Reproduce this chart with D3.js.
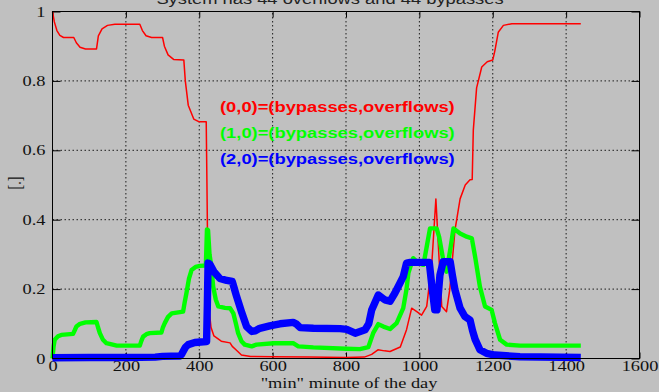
<!DOCTYPE html>
<html>
<head>
<meta charset="utf-8">
<script src="https://cdn.jsdelivr.net/npm/d3@7/dist/d3.min.js"></script>
<style>
  html, body { margin: 0; padding: 0; background: #c0c0c0; }
  svg { display: block; }
</style>
</head>
<body>
<script>
// State probabilities over the day, (bypasses, overflows) pairs
const minutes00 = [0, 5, 12, 20, 30, 58, 65, 75, 90, 120, 125, 135, 150, 170, 238, 245, 255, 270, 300, 305, 315, 330, 358, 362, 370, 385, 400, 419, 421, 423, 426, 432, 440, 460, 484, 490, 500, 515, 540, 600, 700, 800, 850, 870, 887, 905, 920, 948, 965, 979, 993, 1006, 1020, 1034, 1045, 1052, 1061, 1074, 1083, 1097, 1111, 1125, 1138, 1144, 1147, 1156, 1170, 1185, 1200, 1206, 1215, 1229, 1252, 1300, 1440];
const values00  = [1.0, 0.97, 0.945, 0.931, 0.925, 0.925, 0.91, 0.897, 0.892, 0.892, 0.93, 0.95, 0.96, 0.963, 0.963, 0.945, 0.93, 0.925, 0.925, 0.9, 0.875, 0.862, 0.86, 0.8, 0.73, 0.69, 0.682, 0.682, 0.5, 0.3, 0.15, 0.09, 0.065, 0.05, 0.045, 0.035, 0.025, 0.01, 0.006, 0.005, 0.004, 0.003, 0.004, 0.012, 0.025, 0.022, 0.02, 0.033, 0.083, 0.145, 0.135, 0.125, 0.15, 0.275, 0.46, 0.32, 0.15, 0.135, 0.2, 0.37, 0.46, 0.5, 0.515, 0.516, 0.658, 0.78, 0.84, 0.855, 0.86, 0.888, 0.94, 0.96, 0.965, 0.965, 0.965];

const minutes10 = [0, 3, 6, 15, 24, 56, 60, 65, 75, 90, 120, 124, 129, 137, 147, 175, 238, 242, 247, 256, 265, 297, 301, 306, 315, 325, 356, 360, 365, 372, 379, 390, 402, 418, 421, 424, 428, 433, 438, 445, 452, 470, 484, 493, 500, 506, 515, 524, 543, 556, 602, 656, 670, 711, 800, 838, 861, 874, 888, 902, 920, 938, 956, 965, 970, 983, 997, 1011, 1020, 1029, 1047, 1054, 1065, 1074, 1084, 1093, 1111, 1129, 1143, 1152, 1165, 1179, 1197, 1206, 1220, 1238, 1274, 1440];
const values10  = [0, 0.035, 0.054, 0.064, 0.068, 0.071, 0.08, 0.092, 0.1, 0.104, 0.105, 0.09, 0.073, 0.055, 0.044, 0.037, 0.037, 0.05, 0.063, 0.07, 0.073, 0.075, 0.09, 0.102, 0.12, 0.13, 0.135, 0.16, 0.188, 0.23, 0.255, 0.264, 0.267, 0.268, 0.372, 0.37, 0.3, 0.265, 0.207, 0.17, 0.15, 0.146, 0.145, 0.13, 0.1, 0.073, 0.05, 0.04, 0.035, 0.04, 0.044, 0.044, 0.035, 0.032, 0.028, 0.027, 0.033, 0.073, 0.099, 0.092, 0.085, 0.102, 0.145, 0.2, 0.246, 0.289, 0.275, 0.27, 0.322, 0.375, 0.375, 0.35, 0.284, 0.25, 0.313, 0.375, 0.36, 0.351, 0.346, 0.293, 0.207, 0.15, 0.14, 0.102, 0.054, 0.04, 0.037, 0.037];

const minutes20 = [0, 100, 200, 280, 300, 347, 352, 356, 362, 370, 388, 420, 422, 424, 429, 440, 456, 475, 490, 496, 502, 515, 529, 543, 553, 565, 592, 620, 656, 664, 675, 711, 784, 802, 825, 852, 862, 870, 888, 906, 920, 933, 947, 956, 965, 975, 1027, 1035, 1042, 1048, 1056, 1065, 1084, 1090, 1097, 1111, 1124, 1138, 1145, 1152, 1165, 1183, 1206, 1274, 1440];
const values20  = [0.002, 0.003, 0.003, 0.004, 0.006, 0.007, 0.012, 0.02, 0.032, 0.04, 0.046, 0.049, 0.15, 0.275, 0.272, 0.25, 0.231, 0.225, 0.222, 0.2, 0.178, 0.135, 0.092, 0.078, 0.08, 0.087, 0.094, 0.1, 0.104, 0.1, 0.089, 0.087, 0.086, 0.084, 0.073, 0.083, 0.1, 0.14, 0.183, 0.169, 0.165, 0.188, 0.217, 0.236, 0.275, 0.277, 0.277, 0.2, 0.14, 0.14, 0.24, 0.279, 0.279, 0.24, 0.198, 0.145, 0.121, 0.111, 0.08, 0.055, 0.025, 0.015, 0.01, 0.005, 0.003];

const xTicks = [0, 200, 400, 600, 800, 1000, 1200, 1400, 1600];
const yTicks = [0, 0.2, 0.4, 0.6, 0.8, 1];
const yTickLabels = ["0", "0.2", "0.4", "0.6", "0.8", "1"];
const seriesLabels = ["(0,0)=(bypasses,overflows)", "(1,0)=(bypasses,overflows)", "(2,0)=(bypasses,overflows)"];
const titleText = "System has 44 overflows and 44 bypasses";
const xTitle = "\"min\" minute of the day";
const yTitle = "[.]";

const W = 659, H = 392;
const SX = 1.31; // horizontal stretch applied to all text
const serif = "'Liberation Serif', 'Times New Roman', serif";
const sans = "'Liberation Sans', Arial, Helvetica, sans-serif";

const x = d3.scaleLinear().domain([0, 1600]).range([52.5, 639.5]);
const y = d3.scaleLinear().domain([0, 1]).range([358.5, 11.5]);

const svg = d3.select("body").append("svg").attr("width", W).attr("height", H);
svg.append("rect").attr("width", W).attr("height", H).attr("fill", "#c0c0c0");

// dotted grid
const grid = svg.append("g").attr("stroke", "#000").attr("stroke-width", 1)
  .attr("stroke-dasharray", "1.5,2.5").attr("opacity", 0.85);
grid.selectAll("line.gx").data(xTicks.filter(d => d > 0 && d < 1600)).join("line")
  .attr("x1", d => x(d)).attr("x2", d => x(d)).attr("y1", y(0)).attr("y2", y(1));
grid.selectAll("line.gy").data(yTicks.filter(d => d > 0 && d < 1)).join("line")
  .attr("x1", x(0)).attr("x2", x(1600)).attr("y1", d => y(d)).attr("y2", d => y(d));

// axes with inward ticks on all four sides
const gx = svg.append("g").attr("transform", `translate(0,${y(0)})`)
  .call(d3.axisBottom(x).tickValues(xTicks).tickSize(-6).tickFormat(d3.format("d")));
const gxt = svg.append("g").attr("transform", `translate(0,${y(1)})`)
  .call(d3.axisTop(x).tickValues(xTicks).tickSize(-6).tickFormat(""));
const gy = svg.append("g").attr("transform", `translate(${x(0)},0)`)
  .call(d3.axisLeft(y).tickValues(yTicks).tickSize(-8).tickFormat((d, i) => yTickLabels[i]));
const gyr = svg.append("g").attr("transform", `translate(${x(1600)},0)`)
  .call(d3.axisRight(y).tickValues(yTicks).tickSize(-8).tickFormat(""));

[gx, gxt, gy, gyr].forEach(g => {
  g.select(".domain").remove();
  g.selectAll(".tick line").attr("stroke", "#000");
  g.selectAll("text").attr("font-family", serif).attr("font-size", 14).attr("fill", "#111");
});
gx.selectAll("text").attr("y", 12.8).attr("dy", null)
  .attr("transform", `scale(${SX},1)`);
gy.selectAll("text").attr("x", -7 / SX).attr("dy", "0.33em")
  .attr("transform", `scale(${SX},1)`);

// series
const line = d3.line().x(d => x(d[0])).y(d => y(d[1]));
const series = [
  { t: minutes00, v: values00, color: "#ff0000", w: 1.5 },
  { t: minutes10, v: values10, color: "#00ff00", w: 4.4 },
  { t: minutes20, v: values20, color: "#0000ff", w: 7.4 }
];
series.forEach(s => {
  svg.append("path")
    .datum(s.t.map((m, i) => [m, s.v[i]]))
    .attr("d", line)
    .attr("fill", "none")
    .attr("stroke", s.color)
    .attr("stroke-width", s.w)
    .attr("stroke-linejoin", "round")
    .attr("stroke-linecap", "butt");
});

// frame
svg.append("rect")
  .attr("x", x(0)).attr("y", y(1))
  .attr("width", x(1600) - x(0)).attr("height", y(0) - y(1))
  .attr("fill", "none").attr("stroke", "#000").attr("stroke-width", 1);

// labels inside the plot
const labelBase = [112, 138, 164];
seriesLabels.forEach((t, i) => {
  svg.append("text")
    .attr("transform", `translate(220,${labelBase[i]}) scale(${SX},1)`)
    .attr("font-family", sans).attr("font-weight", "bold").attr("font-size", 14)
    .attr("fill", series[i].color)
    .text(t);
});

// titles
svg.append("text")
  .attr("transform", `translate(330,4) scale(${SX},1)`)
  .attr("text-anchor", "middle")
  .attr("font-family", sans).attr("font-size", 14).attr("fill", "#222")
  .text(titleText);

svg.append("text")
  .attr("transform", `translate(349,388) scale(${SX},1)`)
  .attr("text-anchor", "middle")
  .attr("font-family", serif).attr("font-size", 14).attr("fill", "#111")
  .text(xTitle);

svg.append("text")
  .attr("transform", `translate(15,183) scale(${SX},1) rotate(-90)`)
  .attr("text-anchor", "middle").attr("dy", "0.35em")
  .attr("font-family", serif).attr("font-size", 14).attr("fill", "#111")
  .text(yTitle);
</script>
</body>
</html>
